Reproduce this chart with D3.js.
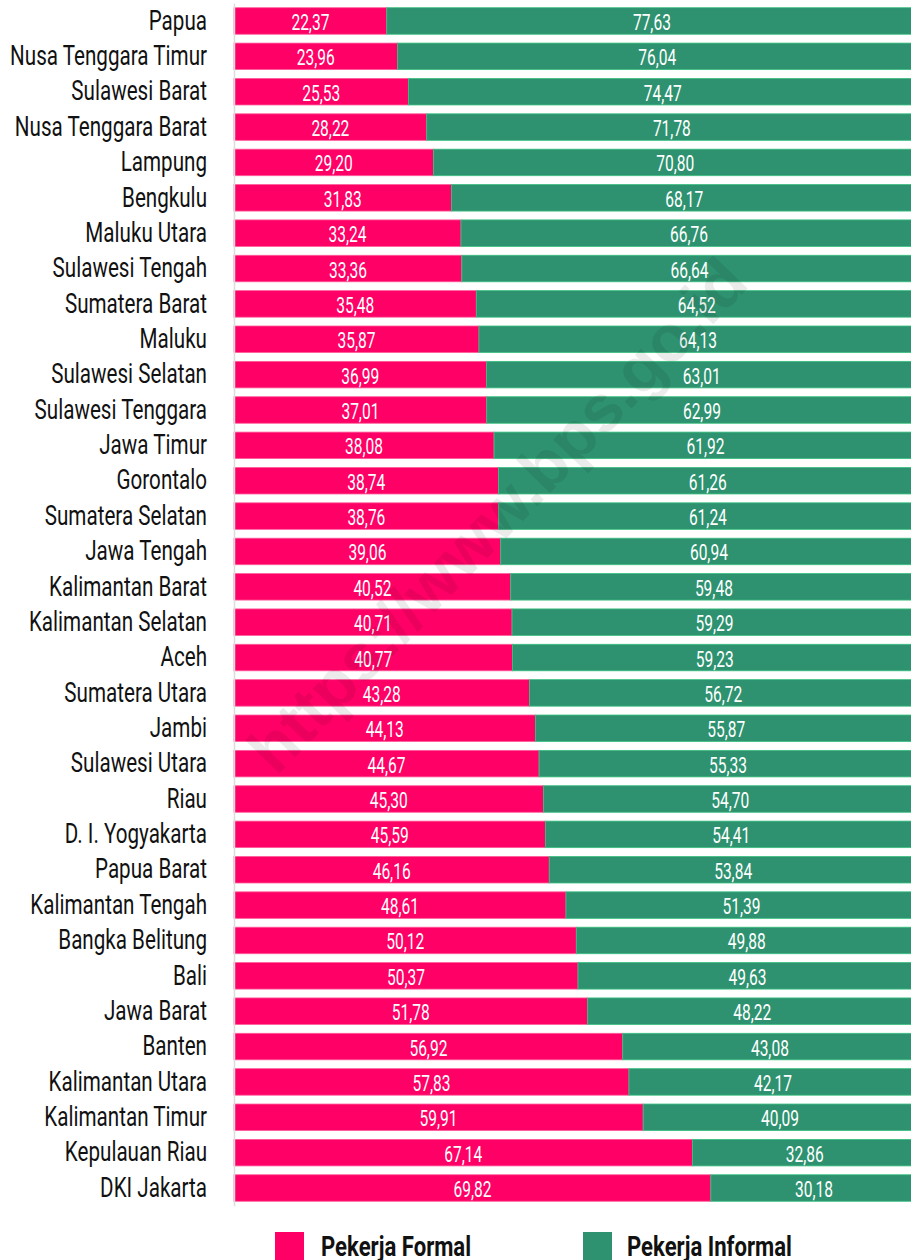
<!DOCTYPE html>
<html>
<head>
<meta charset="utf-8">
<script src="https://cdn.jsdelivr.net/npm/d3@7"></script>
<style>
  body { margin: 0; background: #fff; }
  svg { display: block; }
</style>
</head>
<body>
<div id="chart"></div>
<script>
// provinces, top to bottom
var provinces = [
  "Papua", "Nusa Tenggara Timur", "Sulawesi Barat", "Nusa Tenggara Barat", "Lampung",
  "Bengkulu", "Maluku Utara", "Sulawesi Tengah", "Sumatera Barat", "Maluku",
  "Sulawesi Selatan", "Sulawesi Tenggara", "Jawa Timur", "Gorontalo", "Sumatera Selatan",
  "Jawa Tengah", "Kalimantan Barat", "Kalimantan Selatan", "Aceh", "Sumatera Utara",
  "Jambi", "Sulawesi Utara", "Riau", "D. I. Yogyakarta", "Papua Barat",
  "Kalimantan Tengah", "Bangka Belitung", "Bali", "Jawa Barat", "Banten",
  "Kalimantan Utara", "Kalimantan Timur", "Kepulauan Riau", "DKI Jakarta"
];

var formal = [
  22.37, 23.96, 25.53, 28.22, 29.20,
  31.83, 33.24, 33.36, 35.48, 35.87,
  36.99, 37.01, 38.08, 38.74, 38.76,
  39.06, 40.52, 40.71, 40.77, 43.28,
  44.13, 44.67, 45.30, 45.59, 46.16,
  48.61, 50.12, 50.37, 51.78, 56.92,
  57.83, 59.91, 67.14, 69.82
];

var informal = [
  77.63, 76.04, 74.47, 71.78, 70.80,
  68.17, 66.76, 66.64, 64.52, 64.13,
  63.01, 62.99, 61.92, 61.26, 61.24,
  60.94, 59.48, 59.29, 59.23, 56.72,
  55.87, 55.33, 54.70, 54.41, 53.84,
  51.39, 49.88, 49.63, 48.22, 43.08,
  42.17, 40.09, 32.86, 30.18
];

var seriesNames = ["Pekerja Formal", "Pekerja Informal"];
var colors = ["#ff0066", "#2e9270"];
var edgeColors = ["#ff5c9a", "#38c07e"];

var width = 911, height = 1260;
// no condensed font here, so text is squeezed with scale(sx,1)
var font = "Roboto, 'DejaVu Sans', sans-serif";

var svg = d3.select("#chart")
  .append("svg")
    .attr("width", width)
    .attr("height", height);

// work out a horizontal squeeze so a sample string gets the wanted width
function fitScale(sample, target, size, weight) {
  var t = svg.append("text")
    .style("font-family", font)
    .style("font-size", size + "px")
    .style("font-weight", weight)
    .text(sample);
  var w = t.node().getComputedTextLength();
  t.remove();
  return target / w;
}

var labelScale = fitScale("Nusa Tenggara Timur", 197, 27, 400);
var valueScale = fitScale("22,37", 38, 22, 400);
var legendScale = fitScale("Pekerja Informal", 165, 28, 700);

var x = d3.scaleLinear()
  .domain([0, 100])
  .range([234, 917]);

var y = d3.scaleBand()
  .domain(provinces)
  .range([3.3, 1205.7])
  .paddingInner(0.25)
  .paddingOuter(0.125);

// stack rows
var rows = provinces.map(function(p, i) {
  return { name: p, formal: formal[i], informal: informal[i] };
});
var stack = d3.stack().keys(["formal", "informal"]);
var layers = stack(rows);

var fmt = function(v) { return d3.format(".2f")(v).replace(".", ","); };

// bars
var layer = svg.append("g")
    .attr("class", "bars")
  .selectAll("g")
  .data(layers)
  .enter()
  .append("g");

layer.selectAll("rect")
  .data(function(d) { return d.map(function(s) { s.idx = d.index; return s; }); })
  .enter()
  .append("rect")
    .attr("x", function(d) { return x(d[0]); })
    .attr("y", function(d) { return y(d.data.name); })
    .attr("width", function(d) { return x(d[1]) - x(d[0]); })
    .attr("height", y.bandwidth())
    .attr("fill", function(d) { return colors[d.idx]; })
    .attr("stroke", function(d) { return edgeColors[d.idx]; })
    .attr("stroke-width", 0.8);

// value labels
layer.selectAll("text")
  .data(function(d) { return d; })
  .enter()
  .append("text")
    .attr("transform", function(d) {
      var cx = (x(d[0]) + x(d[1])) / 2;
      var cy = y(d.data.name) + y.bandwidth() / 2 + 9;
      return "translate(" + cx + "," + cy + ") scale(" + valueScale + ",1)";
    })
    .attr("text-anchor", "middle")
    .attr("fill", "#fff")
    .style("font-family", font)
    .style("font-size", "22px")
    .text(function(d) { return fmt(d[1] - d[0]); });

// watermark
svg.append("text")
  .attr("transform", "translate(497,515) rotate(-46)")
  .attr("text-anchor", "middle")
  .attr("dominant-baseline", "central")
  .attr("fill", "#000")
  .attr("fill-opacity", 0.08)
  .style("font-family", "'Liberation Sans', Arial, sans-serif")
  .style("font-weight", "bold")
  .style("font-size", "66px")
  .text("https://www.bps.go.id");

// y axis
var yAxis = d3.axisLeft(y).tickSize(0).tickPadding(27);
var gy = svg.append("g")
  .attr("transform", "translate(234,0)")
  .call(yAxis);
gy.select(".domain")
  .attr("stroke", "#dcdcdc")
  .attr("stroke-width", 1.5);
gy.selectAll("text")
  .attr("x", 0)
  .attr("dy", null)
  .attr("transform", "translate(-27,8.7) scale(" + labelScale + ",1)")
  .attr("fill", "#111")
  .style("font-family", font)
  .style("font-size", "27px");

// legend
var legendX = [275, 583];
var legend = svg.append("g")
    .attr("class", "legend")
  .selectAll("g")
  .data(seriesNames)
  .enter()
  .append("g")
    .attr("transform", function(d, i) { return "translate(" + legendX[i] + ",1232)"; });

legend.append("rect")
  .attr("width", 29)
  .attr("height", 29)
  .attr("fill", function(d, i) { return colors[i]; });

legend.append("text")
  .attr("transform", function(d, i) {
    return "translate(" + (i == 0 ? 46 : 44) + ",24) scale(" + legendScale + ",1)";
  })
  .attr("fill", "#111")
  .style("font-family", font)
  .style("font-weight", "bold")
  .style("font-size", "28px")
  .text(function(d) { return d; });
</script>
</body>
</html>
